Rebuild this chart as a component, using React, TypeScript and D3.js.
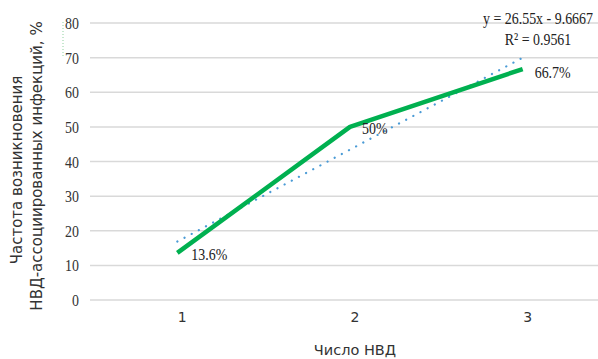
import * as d3 from "d3";

const categories = [1, 2, 3];
const rates = [13.6, 50, 66.7];
const rateLabels = ["13.6%", "50%", "66.7%"];
const yTicks = [0, 10, 20, 30, 40, 50, 60, 70, 80];
const trendSlope = 26.55;
const trendIntercept = -9.6667;
const trendText = ["y = 26.55x - 9.6667", "R² = 0.9561"];

const W = 598;
const H = 359;

export default function App() {
  const x = d3.scaleBand<number>().domain(categories).range([91, 609]);
  const cx = (c: number) => (x(c) ?? 0) + x.bandwidth() / 2;
  const y = d3.scaleLinear().domain([0, 80]).range([300, 23]);

  const line = d3
    .line<number>()
    .x((_, i) => cx(categories[i]))
    .y((d) => y(d));

  // linear trend, as Excel draws it
  const trend = d3
    .line<number>()
    .x((c) => cx(c))
    .y((c) => y(trendSlope * c + trendIntercept));

  const serif = "'Liberation Serif', 'Times New Roman', serif";
  const sans = "'DejaVu Sans', Verdana, sans-serif";
  const labelDx = [14, 12, 12];
  const labelDy = [7, 7, 9];

  return (
    <svg
      width={W}
      height={H}
      style={{ position: "absolute", left: 0, top: 0, background: "#fff" }}
    >
      {yTicks.map((t) => (
        <line
          key={t}
          x1={90}
          x2={W}
          y1={y(t)}
          y2={y(t)}
          stroke="#d9d9d9"
          strokeWidth={1.5}
        />
      ))}
      {yTicks.map((t) => (
        <text
          key={"l" + t}
          transform={`translate(79,${y(t) + 6}) scale(0.82,1)`}
          textAnchor="end"
          fontFamily={serif}
          fontSize={17}
          fill="#333"
        >
          {t}
        </text>
      ))}
      <line
        x1={63}
        x2={63}
        y1={22}
        y2={56}
        stroke="#8fd19e"
        strokeWidth={1}
        strokeDasharray="1 2"
      />
      {categories.map((c) => (
        <text
          key={c}
          x={cx(c) + 5}
          y={322}
          textAnchor="middle"
          fontFamily={sans}
          fontSize={14}
          fill="#333"
        >
          {c}
        </text>
      ))}
      <path
        d={trend([1, 3]) ?? ""}
        fill="none"
        stroke="#4a9bd6"
        strokeWidth={2.2}
        strokeDasharray="0.1 8"
        strokeLinecap="round"
      />
      <path
        d={line(rates) ?? ""}
        fill="none"
        stroke="#00b050"
        strokeWidth={4.5}
        strokeLinejoin="round"
      />
      {rates.map((r, i) => (
        <text
          key={i}
          transform={`translate(${cx(categories[i]) + labelDx[i]},${y(r) + labelDy[i]}) scale(0.82,1)`}
          fontFamily={serif}
          fontSize={17}
          fill="#222"
        >
          {rateLabels[i]}
        </text>
      ))}
      {trendText.map((t, i) => (
        <text
          key={t}
          transform={`translate(538,${24 + i * 21}) scale(0.82,1)`}
          textAnchor="middle"
          fontFamily={serif}
          fontSize={17}
          fill="#222"
        >
          {t}
        </text>
      ))}
      <text
        transform="translate(22,170) rotate(-90)"
        textAnchor="middle"
        fontFamily={sans}
        fontSize={15}
        fill="#333"
      >
        Частота возникновения
      </text>
      <text
        transform="translate(42,166) rotate(-90)"
        textAnchor="middle"
        fontFamily={sans}
        fontSize={15}
        fill="#333"
      >
        НВД-ассоциированных инфекций, %
      </text>
      <text
        x={355}
        y={355}
        textAnchor="middle"
        fontFamily={sans}
        fontSize={14.5}
        fill="#333"
      >
        Число НВД
      </text>
    </svg>
  );
}
